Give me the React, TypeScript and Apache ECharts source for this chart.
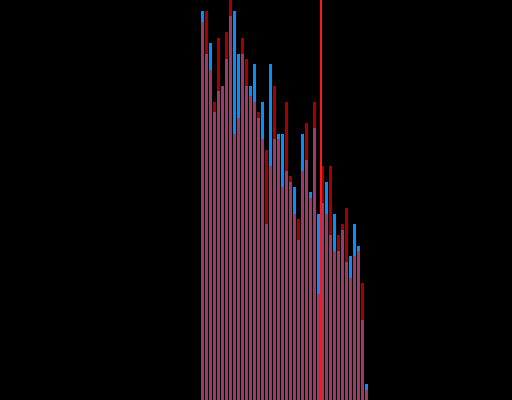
import React, { useEffect, useRef } from "react";
import * as echarts from "echarts";

// Bin positions (index of each histogram bin)
const bins: number[] = Array.from({ length: 42 }, (_, i) => i);

// Series values (one per bin)
const blueValues: number[] = [
  389, 346, 357, 288, 309, 314, 341, 384, 389, 346,
  346, 314, 314, 336, 282, 298, 176, 336, 261, 266,
  266, 229, 218, 213, 160, 266, 240, 208, 272, 186,
  197, 218, 165, 186, 149, 170, 138, 144, 176, 154,
  80, 16,
];
const redValues: number[] = [
  378, 389, 330, 298, 362, 314, 368, 400, 266, 282,
  362, 341, 304, 298, 288, 261, 250, 234, 314, 261,
  213, 298, 224, 186, 181, 229, 277, 202, 298, 106,
  234, 186, 234, 149, 165, 176, 192, 122, 144, 149,
  117, 10,
];

// Vertical marker line position (on the bin axis)
const markerX = 29.5;

export default function App() {
  const ref = useRef<HTMLDivElement>(null);

  useEffect(() => {
    if (!ref.current) return;
    const chart = echarts.init(ref.current, undefined, { renderer: "svg" });
    const blue = bins.map((b, i) => [b, blueValues[i]]);
    const red = bins.map((b, i) => [b, redValues[i]]);
    const overlap = bins.map((b, i) => [b, Math.min(blueValues[i], redValues[i])]);
    chart.setOption({
      animation: false,
      backgroundColor: "#000000",
      grid: { left: 0, right: 0, top: 0, bottom: 0 },
      xAxis: {
        type: "value",
        min: -50.625,
        max: 77.375,
        show: false,
        splitLine: { show: false },
      },
      yAxis: {
        type: "value",
        min: 0,
        max: 400,
        show: false,
        splitLine: { show: false },
      },
      series: [
        {
          type: "bar",
          data: blue,
          barWidth: 3,
          barGap: "-100%",
          itemStyle: { color: "#0a8cff" },
        },
        {
          type: "bar",
          data: red,
          barWidth: 3,
          barGap: "-100%",
          itemStyle: { color: "#a30000" },
        },
        {
          type: "bar",
          data: overlap,
          barWidth: 3,
          barGap: "-100%",
          itemStyle: { color: "#9c3a68" },
          markLine: {
            silent: true,
            symbol: ["none", "none"],
            label: { show: false },
            lineStyle: { color: "#ff1a1a", width: 2, type: "solid", opacity: 1 },
            data: [{ xAxis: markerX }],
          },
        },
      ],
    });
    return () => chart.dispose();
  }, []);

  return (
    <div
      ref={ref}
      style={{ position: "fixed", left: 0, top: 0, width: 512, height: 400 }}
    />
  );
}
